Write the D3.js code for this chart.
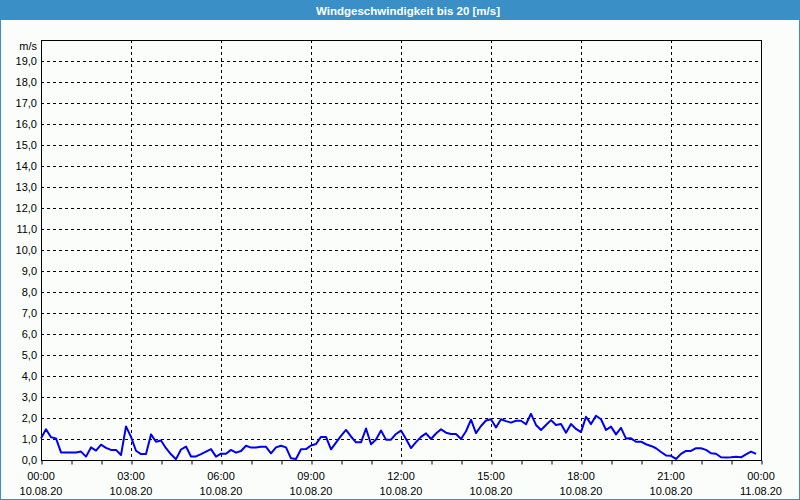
<!DOCTYPE html>
<html><head><meta charset="utf-8">
<script src="https://cdn.jsdelivr.net/npm/d3@7"></script>
<style>
html,body{margin:0;padding:0;background:#fff;}
svg{display:block;}
</style></head>
<body>
<svg id="c" width="800" height="500"></svg>
<script>
const title = "Windgeschwindigkeit bis 20 [m/s]";
const unitLabel = "m/s";
const startTime = "2020-08-10T00:00:00";
const endTime = "2020-08-11T00:00:00";
const stepMinutes = 10;
const speed = [
1.03,1.46,1.08,1.03,0.36,0.36,0.36,0.36,0.40,0.16,0.60,0.45,0.73,0.58,0.48,0.48,0.24,1.60,1.10,0.44,
0.28,0.28,1.22,0.87,0.93,0.56,0.27,0.04,0.50,0.64,0.17,0.17,0.28,0.40,0.52,0.16,0.30,0.30,0.48,0.35,
0.43,0.68,0.59,0.60,0.63,0.63,0.32,0.60,0.68,0.60,0.08,0.05,0.51,0.52,0.69,0.76,1.10,1.10,0.51,0.83,
1.15,1.43,1.12,0.84,0.84,1.50,0.75,0.98,1.40,0.97,0.97,1.24,1.40,1.00,0.57,0.85,1.10,1.27,1.00,1.26,
1.46,1.30,1.24,1.24,1.00,1.37,1.92,1.28,1.62,1.88,1.94,1.55,1.94,1.85,1.78,1.87,1.87,1.70,2.20,1.67,
1.43,1.67,1.90,1.67,1.71,1.30,1.71,1.48,1.33,2.06,1.71,2.11,1.94,1.43,1.59,1.22,1.53,1.02,1.03,0.87,
0.87,0.75,0.67,0.56,0.38,0.22,0.20,0.05,0.29,0.43,0.43,0.56,0.56,0.48,0.32,0.30,0.13,0.12,0.13,0.16,
0.13,0.27,0.40,0.29
];
const yTicks = [0,1,2,3,4,5,6,7,8,9,10,11,12,13,14,15,16,17,18,19];
const yMax = 20;
const xLabelHours = [0,3,6,9,12,15,18,21,24];

const svg = d3.select("#c");
const W = 800, H = 500;
const m = {left:41, right:39, top:40, bottom:40};
const t0 = new Date(startTime), t1 = new Date(endTime);
const x = d3.scaleTime().domain([t0,t1]).range([m.left, W - m.right]);
const y = d3.scaleLinear().domain([0,yMax]).range([H - m.bottom, m.top]);
const font = "Tahoma, 'Liberation Sans', 'DejaVu Sans', sans-serif";

svg.append("rect").attr("x",0).attr("y",0).attr("width",W).attr("height",H).attr("fill","#fbfdfb");
// title bar
svg.append("rect").attr("x",0).attr("y",0).attr("width",W).attr("height",20).attr("fill","#3b8fc7");
svg.append("text").attr("x",408).attr("y",14.5).attr("text-anchor","middle")
  .attr("font-family",font).attr("font-size","11.5px").attr("font-weight","bold").attr("fill","#fff").text(title);
// outer border
svg.append("rect").attr("x",0.5).attr("y",0.5).attr("width",W-1).attr("height",H-1)
  .attr("fill","none").attr("stroke","#3b8fc7").attr("stroke-width",1);

const times = speed.map((_,i)=> d3.timeMinute.offset(t0, i*stepMinutes));
const hourTicks = d3.timeHour.range(t0, d3.timeMinute.offset(t1,1), 1);
const majorTicks = xLabelHours.map(h => d3.timeHour.offset(t0,h));

// grid
const g = svg.append("g");
g.selectAll("line.hg").data(yTicks.filter(v=>v>0)).join("line")
  .attr("x1",m.left).attr("x2",W-m.right)
  .attr("y1",d=>Math.round(y(d))+0.5).attr("y2",d=>Math.round(y(d))+0.5)
  .attr("stroke","#000").attr("stroke-width",1).attr("stroke-dasharray","3,3");
g.selectAll("line.vg").data(majorTicks.slice(1,-1)).join("line")
  .attr("x1",d=>Math.round(x(d))+0.5).attr("x2",d=>Math.round(x(d))+0.5)
  .attr("y1",m.top).attr("y2",H-m.bottom)
  .attr("stroke","#000").attr("stroke-width",1).attr("stroke-dasharray","3,3");

// x axis ticks (hourly)
const xAxis = d3.axisBottom(x).tickValues(hourTicks).tickSize(4).tickFormat("");
const xa = svg.append("g").attr("transform",`translate(0.5,${H-m.bottom+0.5})`).call(xAxis);
xa.select(".domain").remove();
xa.selectAll("line").attr("stroke","#000");

// x labels
const fmtT = d3.timeFormat("%H:%M"), fmtD = d3.timeFormat("%d.%m.%y");
const xl = svg.append("g");
majorTicks.forEach(d=>{
  xl.append("text").attr("x",x(d)).attr("y",480).attr("text-anchor","middle")
    .attr("font-family",font).attr("font-size","11px").attr("fill","#000").text(fmtT(d));
  xl.append("text").attr("x",x(d)).attr("y",495).attr("text-anchor","middle")
    .attr("font-family",font).attr("font-size","11px").attr("fill","#000").text(fmtD(d));
});

// y labels
const fmtY = v => d3.format(".1f")(v).replace(".",",");
const yAxis = d3.axisLeft(y).tickValues(yTicks).tickSize(0).tickPadding(4).tickFormat(fmtY);
const ya = svg.append("g").attr("transform",`translate(${m.left},0)`).call(yAxis);
ya.select(".domain").remove();
ya.selectAll("text").attr("font-family",font).attr("font-size","11px").attr("fill","#000");
svg.append("text").attr("x",37).attr("y",y(yMax)+9.5).attr("text-anchor","end")
  .attr("font-family",font).attr("font-size","11px").attr("fill","#000").text(unitLabel);

// frame
svg.append("rect").attr("x",m.left+0.5).attr("y",m.top+0.5)
  .attr("width",W-m.left-m.right).attr("height",H-m.top-m.bottom)
  .attr("fill","none").attr("stroke","#000").attr("stroke-width",1);

// line
const line = d3.line().x((d,i)=>x(times[i])).y(d=>y(d));
svg.append("path").datum(speed).attr("d",line).attr("fill","none")
  .attr("stroke","#0000f0").attr("stroke-width",2).attr("stroke-linejoin","round");
</script>
</body></html>
